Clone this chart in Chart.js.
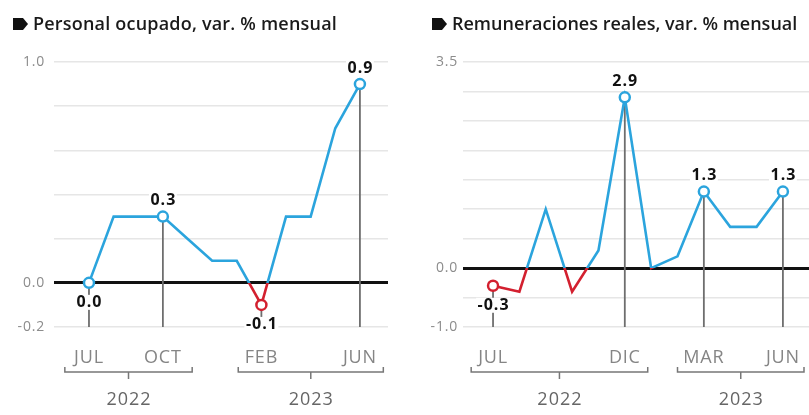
<!DOCTYPE html>
<html>
<head>
<meta charset="utf-8">
<script src="https://cdn.jsdelivr.net/npm/chart.js@4.4.1/dist/chart.umd.min.js"></script>
<style>
  body { margin: 0; background: #fff; overflow: hidden; }
  canvas { position: absolute; top: 0; }
  #chartLeft { left: 0; }
  #chartRight { left: 405px; }
</style>
</head>
<body>
<canvas id="chartLeft" width="400" height="415"></canvas>
<canvas id="chartRight" width="404" height="415"></canvas>
<script>
// Monthly data, Jul 2022 - Jun 2023
const months = ['JUL', 'AGO', 'SEP', 'OCT', 'NOV', 'DIC', 'ENE', 'FEB', 'MAR', 'ABR', 'MAY', 'JUN'];
const years = ['2022', '2023'];

const personalValues = [0.0, 0.3, 0.3, 0.3, 0.2, 0.1, 0.1, -0.1, 0.3, 0.3, 0.7, 0.9];
const personalMarked = [0, 3, 7, 11];
const personalTicks = [0, 3, 7, 11];
const personalYLabels = [-0.2, 0.0, 1.0];

const remuneracionesValues = [-0.3, -0.4, 1.0, -0.4, 0.3, 2.9, 0.0, 0.2, 1.3, 0.7, 0.7, 1.3];
const remuneracionesMarked = [0, 5, 8, 11];
const remuneracionesTicks = [0, 5, 8, 11];
const remuneracionesYLabels = [-1.0, 0.0, 3.5];

const BLUE = '#2ba4dd';
const RED = '#d3202f';
const FONT = '"Open Sans", Lato, sans-serif';

// blue above zero, red below
function zeroSplitColor(context) {
  const chart = context.chart;
  const area = chart.chartArea;
  if (!area) return BLUE;
  const y0 = chart.scales.y.getPixelForValue(0);
  const stop = Math.min(1, Math.max(0, (y0 - area.top) / (area.bottom - area.top)));
  const g = chart.ctx.createLinearGradient(0, area.top, 0, area.bottom);
  g.addColorStop(0, BLUE);
  g.addColorStop(stop, BLUE);
  g.addColorStop(stop, RED);
  g.addColorStop(1, RED);
  return g;
}

function makeExtras(cfg) {
  return {
    id: 'extras',
    beforeDraw(chart) {
      chart.ctx.letterSpacing = '0.8px';
    },
    beforeDatasetsDraw(chart) {
      const { ctx, scales: { x, y } } = chart;
      ctx.save();
      ctx.strokeStyle = '#6e6e6e';
      ctx.lineWidth = 1.8;
      cfg.marked.forEach(i => {
        const px = x.getPixelForValue(i);
        ctx.beginPath();
        ctx.moveTo(px, y.getPixelForValue(cfg.values[i]));
        ctx.lineTo(px, y.getPixelForValue(y.min));
        ctx.stroke();
      });
      ctx.restore();
    },
    afterDatasetsDraw(chart) {
      const { ctx, scales: { x, y } } = chart;
      ctx.save();
      ctx.font = 'bold 16px ' + FONT;
      ctx.letterSpacing = '1px';
      ctx.textAlign = 'center';
      ctx.textBaseline = 'middle';
      cfg.marked.forEach(i => {
        const v = cfg.values[i];
        const px = x.getPixelForValue(i);
        const py = y.getPixelForValue(v) + (v <= 0 ? 20 : -16);
        const txt = v.toFixed(1);
        const w = ctx.measureText(txt).width;
        ctx.fillStyle = '#fff';
        ctx.fillRect(px - w / 2 - 1, py - 8, w + 2, 15);
        ctx.fillStyle = '#111';
        ctx.fillText(txt, px + 0.5, py);
      });
      ctx.restore();
    },
    afterDraw(chart) {
      const { ctx, chartArea, scales: { x } } = chart;
      ctx.save();
      // title with bullet
      const bx = cfg.bulletX;
      ctx.fillStyle = '#111';
      ctx.beginPath();
      ctx.moveTo(bx, 18);
      ctx.lineTo(bx + 10, 18);
      ctx.lineTo(bx + 15, 24);
      ctx.lineTo(bx + 10, 30);
      ctx.lineTo(bx, 30);
      ctx.closePath();
      ctx.fill();
      ctx.font = '600 18px ' + FONT;
      ctx.letterSpacing = cfg.titleSpacing;
      ctx.textAlign = 'left';
      ctx.textBaseline = 'alphabetic';
      ctx.fillStyle = '#1a1a1a';
      ctx.fillText(cfg.title, bx + 20, 30);

      // year brackets
      const yb = chartArea.bottom + 45;
      ctx.strokeStyle = '#777';
      ctx.lineWidth = 1.5;
      ctx.font = '18px ' + FONT;
      ctx.letterSpacing = '1px';
      ctx.textAlign = 'center';
      ctx.textBaseline = 'middle';
      ctx.fillStyle = '#666';
      cfg.brackets.forEach((b, k) => {
        const x1 = x.getPixelForValue(b[0]);
        const x2 = x.getPixelForValue(b[1]);
        const mid = (x1 + x2) / 2;
        ctx.beginPath();
        ctx.moveTo(x1, yb - 5);
        ctx.lineTo(x1, yb);
        ctx.lineTo(x2, yb);
        ctx.lineTo(x2, yb - 5);
        ctx.moveTo(mid, yb);
        ctx.lineTo(mid, yb + 7);
        ctx.stroke();
        ctx.fillText(years[k], mid + 0.5, yb + 28);
      });
      ctx.restore();
    }
  };
}

function makeChart(canvasId, opts) {
  const ctx = document.getElementById(canvasId).getContext('2d');
  return new Chart(ctx, {
    type: 'line',
    data: {
      datasets: [{
        data: opts.values.map((v, i) => ({ x: i, y: v })),
        borderColor: zeroSplitColor,
        borderWidth: 2.6,
        tension: 0,
        pointRadius: c => opts.marked.includes(c.dataIndex) ? 5 : 0,
        pointBorderWidth: 2.5,
        pointBackgroundColor: '#fff',
        pointBorderColor: c => (c.raw && c.raw.y < 0) ? RED : BLUE,
        clip: false
      }]
    },
    options: {
      responsive: false,
      animation: false,
      layout: {
        autoPadding: false,
        padding: { top: 62, right: opts.padRight, left: 0, bottom: 0 }
      },
      plugins: {
        legend: { display: false },
        title: { display: false },
        tooltip: { enabled: false }
      },
      scales: {
        x: {
          type: 'linear',
          min: opts.xMin,
          max: opts.xMax,
          grid: { display: false, drawTicks: false },
          border: { display: false },
          afterBuildTicks: axis => { axis.ticks = opts.ticks.map(v => ({ value: v })); },
          afterFit: s => { s.height = 88; s.paddingLeft = 0; s.paddingRight = 0; },
          ticks: {
            padding: 20,
            color: '#858585',
            font: { family: FONT, size: 18 },
            maxRotation: 0,
            autoSkip: false,
            callback: v => months[v]
          }
        },
        y: {
          min: opts.yMin,
          max: opts.yMax,
          afterBuildTicks: axis => {
            const ticks = [];
            for (let k = 0; k <= Math.round((opts.yMax - opts.yMin) / opts.step); k++) {
              ticks.push({ value: Math.round((opts.yMin + k * opts.step) * 10) / 10 });
            }
            axis.ticks = ticks;
          },
          afterFit: s => { s.width = opts.axisWidth; },
          border: { display: false },
          grid: {
            drawTicks: false,
            color: c => Math.abs(c.tick.value) < 1e-9 ? '#111' : '#e6e6e6',
            lineWidth: c => Math.abs(c.tick.value) < 1e-9 ? 3 : 1.5
          },
          ticks: {
            padding: opts.tickPad,
            color: '#8c8c8c',
            font: { family: FONT, size: 14 },
            callback: v => opts.yLabels.some(l => Math.abs(l - v) < 1e-9) ? v.toFixed(1) : ''
          }
        }
      }
    },
    plugins: [makeExtras(opts)]
  });
}

makeChart('chartLeft', {
  title: 'Personal ocupado, var. % mensual',
  titleSpacing: '0.2px',
  values: personalValues,
  marked: personalMarked,
  ticks: personalTicks,
  yLabels: personalYLabels,
  yMin: -0.2, yMax: 1.0, step: 0.2,
  xMin: -1.42, xMax: 12.14,
  axisWidth: 54, tickPad: 9, padRight: 12,
  bulletX: 13,
  brackets: [[-0.98, 4.19], [6.06, 11.95]]
});

makeChart('chartRight', {
  title: 'Remuneraciones reales, var. % mensual',
  titleSpacing: '0px',
  values: remuneracionesValues,
  marked: remuneracionesMarked,
  ticks: remuneracionesTicks,
  yLabels: remuneracionesYLabels,
  yMin: -1.0, yMax: 3.5, step: 0.5,
  xMin: -1.14, xMax: 11.99,
  axisWidth: 58, tickPad: 5, padRight: 0,
  bulletX: 27,
  brackets: [[-0.83, 5.87], [7.0, 11.8]]
});
</script>
</body>
</html>
